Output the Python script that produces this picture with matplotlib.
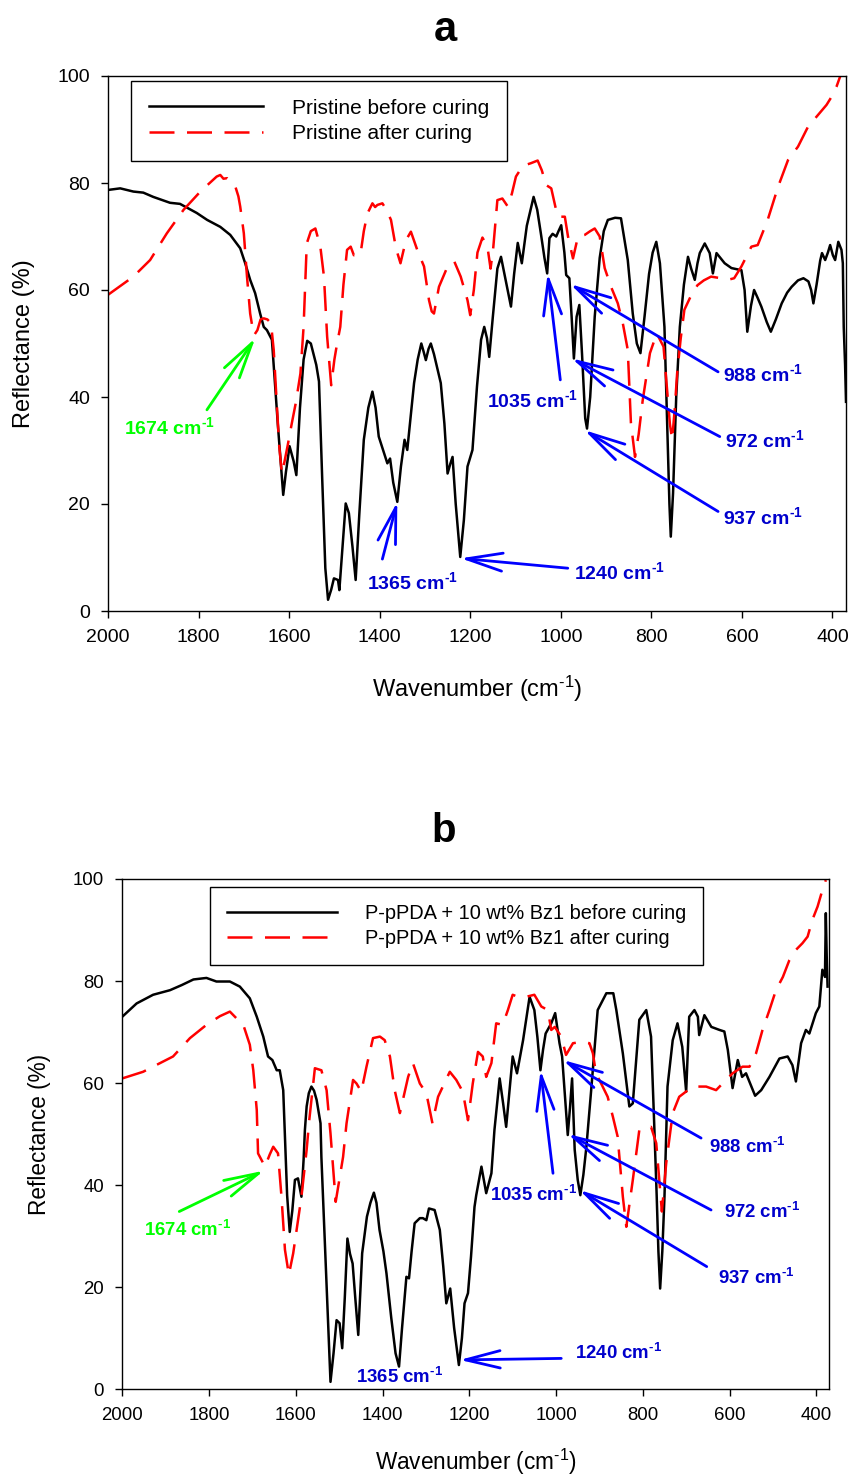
"""FTIR reflectance spectra before/after curing: panel a (pristine), panel b (P-pPDA + 10 wt% Bz1)."""
import matplotlib

matplotlib.use("Agg")
import matplotlib.pyplot as plt  # noqa: E402

plt.rcParams["font.family"] = "Liberation Sans"
plt.rcParams["mathtext.fontset"] = "custom"
plt.rcParams["mathtext.rm"] = "Liberation Sans"
plt.rcParams["mathtext.bf"] = "Liberation Sans:bold"
plt.rcParams["mathtext.default"] = "regular"

# ---- panel a: pristine ----
a_before_wn = [2000, 1973, 1944, 1922, 1900, 1863, 1841, 1804, 1781, 1752, 1730, 1708, 1697, 1686,
               1675, 1664, 1656, 1649, 1638, 1625, 1613, 1607, 1599, 1590, 1584, 1576, 1568, 1560,
               1552, 1540, 1534, 1527, 1520, 1514, 1507, 1501, 1492, 1489, 1482, 1475, 1468, 1460,
               1453, 1445, 1435, 1425, 1416, 1409, 1402, 1392, 1383, 1377, 1370, 1361, 1353, 1345,
               1339, 1332, 1324, 1316, 1308, 1303, 1298, 1292, 1287, 1280, 1265, 1257, 1250, 1244,
               1239, 1232, 1222, 1214, 1206, 1195, 1185, 1176, 1169, 1163, 1158, 1150, 1140, 1132,
               1122, 1110, 1103, 1095, 1086, 1075, 1060, 1052, 1044, 1036, 1030, 1025, 1018, 1010,
               1005, 999, 992, 988, 981, 976, 971, 965, 959, 953, 946, 942, 935, 925, 914, 905, 896,
               880, 867, 852, 841, 832, 824, 815, 805, 797, 789, 781, 771, 765, 760, 757, 752, 745,
               737, 728, 719, 712, 704, 698, 693, 682, 671, 664, 656, 638, 623, 601, 594, 588, 580,
               573, 565, 557, 545, 536, 525, 512, 500, 490, 476, 464, 453, 447, 442, 435, 427, 423,
               416, 410, 405, 399, 394, 390, 387, 380, 377, 375, 372, 370]
a_before_r = [78.7, 79.0, 78.4, 78.2, 77.4, 76.3, 76.1, 74.4, 73.1, 71.8, 70.3, 67.8, 65.0, 61.9,
              59.4, 55.6, 53.1, 52.5, 50.7, 35.0, 21.7, 26.0, 30.8, 28.0, 25.4, 38.0, 47.0, 50.5,
              50.0, 46.0, 42.9, 25.0, 8.0, 2.1, 4.0, 6.1, 5.8, 3.9, 12.0, 20.1, 18.3, 12.0,
              5.8, 18.0, 32.0, 38.0, 41.0, 38.0, 32.6, 30.0, 27.6, 28.5, 24.0, 20.4, 27.0, 32.0,
              30.1, 36.0, 42.6, 47.0, 50.0, 48.5, 46.9, 49.0, 50.0, 48.0, 42.6, 35.0, 25.7, 27.5,
              28.8, 20.0, 10.1, 17.0, 27.0, 30.1, 42.0, 50.7, 53.1, 51.0, 47.5, 55.0, 64.0, 66.2,
              62.0, 56.9, 63.0, 68.8, 65.0, 72.0, 77.4, 75.0, 70.6, 66.0, 63.1, 69.7, 70.5, 70.0,
              71.0, 72.1, 67.0, 62.8, 62.2, 55.0, 47.2, 55.0, 57.2, 48.0, 36.0, 34.1, 40.0, 55.0,
              66.0, 71.0, 73.1, 73.5, 73.4, 65.6, 55.6, 50.0, 48.2, 55.0, 63.0, 67.0, 69.0, 65.0,
              53.1, 35.0, 20.0, 13.9, 22.0, 40.0, 53.1, 61.0, 66.2, 64.0, 61.9, 65.0, 66.9, 68.7,
              66.9, 63.1, 66.9, 65.0, 64.1, 63.7, 60.0, 52.2, 57.0, 60.0, 58.5, 56.9, 54.0, 52.2,
              54.5, 57.5, 59.5, 60.6, 61.8, 62.2, 61.6, 60.0, 57.5, 61.0, 65.5, 66.9, 65.6, 67.0,
              68.4, 66.5, 65.6, 67.5, 69.0, 67.5, 65.0, 53.1, 46.0, 39.1]

a_after_wn = [2000, 1944, 1907, 1870, 1833, 1796, 1774, 1760, 1752, 1745, 1737, 1727, 1719, 1712,
              1708, 1700, 1693, 1686, 1680, 1677, 1670, 1663, 1656, 1648, 1640, 1634, 1628, 1622,
              1616, 1610, 1603, 1594, 1585, 1575, 1568, 1561, 1552, 1542, 1531, 1523, 1516, 1507,
              1500, 1494, 1487, 1480, 1472, 1464, 1457, 1450, 1442, 1435, 1427, 1416, 1410, 1405,
              1394, 1385, 1375, 1364, 1354, 1342, 1331, 1317, 1302, 1291, 1285, 1280, 1269, 1250,
              1235, 1221, 1206, 1200, 1192, 1184, 1173, 1162, 1155, 1149, 1140, 1129, 1117, 1108,
              1099, 1084, 1066, 1051, 1042, 1032, 1021, 1012, 1006, 991, 984, 973, 962, 947, 935,
              925, 914, 903, 889, 874, 863, 852, 845, 836, 828, 819, 803, 788, 773, 765, 759, 754,
              748, 743, 735, 727, 712, 698, 684, 668, 646, 631, 617, 601, 579, 565, 543, 520, 498,
              476, 454, 432, 413, 402, 391, 383]
a_after_r = [59.1, 62.5, 65.6, 70.6, 75.0, 78.4, 80.1, 81.2, 81.5, 80.8, 80.9, 80.0, 79.4, 77.5,
             75.6, 70.6, 62.5, 55.6, 52.5, 51.6, 52.5, 54.5, 54.7, 54.5, 53.8, 48.8, 40.0, 31.0,
             25.7, 28.0, 31.0, 35.1, 39.0, 44.4, 53.1, 68.7, 71.0, 71.5, 68.1, 62.5, 51.3, 42.2,
             47.0, 50.0, 53.1, 61.0, 67.5, 68.1, 66.5, 67.0, 66.9, 71.0, 74.3, 76.2, 75.5, 75.9,
             76.2, 75.0, 73.1, 67.8, 65.0, 69.3, 70.9, 67.5, 64.4, 58.1, 56.0, 55.6, 60.6, 64.4,
             65.3, 62.5, 58.1, 55.3, 60.0, 67.0, 69.8, 68.1, 64.0, 68.0, 76.8, 77.1, 75.6, 78.0,
             81.2, 83.2, 83.7, 84.2, 82.4, 79.6, 79.0, 75.6, 73.7, 73.7, 70.0, 65.9, 70.0, 70.3, 71.0,
             71.5, 70.0, 64.1, 60.6, 57.5, 53.8, 48.8, 35.1, 28.8, 33.0, 39.4, 48.2, 51.9, 49.4, 41.3,
             35.0, 32.0, 38.0, 44.4, 51.0, 56.3, 59.0, 60.9, 61.8, 62.5, 62.2, 61.9, 62.2, 64.4,
             68.1, 68.4, 73.1, 79.3, 84.3, 86.8, 90.5, 92.7, 94.6, 96.1, 98.0, 99.9]

# ---- panel b: P-pPDA + 10 wt% Bz1 ----
b_before_wn = [2000, 1967, 1929, 1890, 1863, 1836, 1806, 1783, 1752, 1729, 1706, 1690, 1675, 1664,
               1654, 1644, 1637, 1629, 1625, 1620, 1614, 1608, 1602, 1595, 1587, 1582, 1579, 1575,
               1570, 1564, 1558, 1552, 1543, 1541, 1536, 1531, 1525, 1520, 1513, 1506, 1499, 1493,
               1487, 1481, 1475, 1469, 1463, 1456, 1447, 1436, 1428, 1420, 1414, 1407, 1398, 1391,
               1380, 1370, 1362, 1355, 1345, 1339, 1333, 1326, 1314, 1307, 1299, 1293, 1280, 1268,
               1260, 1253, 1244, 1235, 1224, 1217, 1211, 1203, 1196, 1188, 1184, 1172, 1161, 1149,
               1142, 1130, 1122, 1115, 1100, 1090, 1076, 1061, 1050, 1043, 1036, 1030, 1024, 1011,
               1002, 992, 986, 980, 973, 968, 963, 957, 950, 944, 937, 930, 919, 904, 884, 868, 861,
               846, 831, 823, 808, 792, 781, 774, 768, 764, 760, 755, 750, 743, 731, 720, 709, 700,
               693, 681, 673, 670, 658, 642, 623, 612, 604, 593, 581, 571, 562, 541, 527, 508, 485,
               466, 455, 447, 435, 424, 416, 401, 393, 386, 380, 378, 376, 374]
b_before_r = [73.0, 75.6, 77.3, 78.2, 79.2, 80.3, 80.6, 79.9, 79.9, 78.9, 76.6, 73.0, 69.1, 65.2,
              64.5, 62.5, 62.5, 58.6, 49.5, 38.0, 30.8, 35.0, 41.0, 41.3, 37.7, 45.0, 50.8, 55.4,
              58.0, 59.3, 58.5, 56.7, 52.1, 45.5, 35.0, 24.6, 12.0, 1.4, 7.0, 13.5, 12.9, 8.0,
              18.0, 29.5, 26.5, 24.6, 18.0, 10.6, 26.6, 33.8, 36.5, 38.5, 36.5, 31.2, 27.0, 22.7,
              14.0, 7.0, 4.4, 12.0, 22.0, 21.7, 27.0, 32.5, 33.5, 33.5, 33.1, 35.4, 35.1, 31.2,
              24.0, 16.8, 19.7, 12.0, 4.7, 10.0, 16.8, 18.8, 26.0, 35.7, 38.0, 43.6, 38.4, 42.3,
              50.8, 60.9, 56.0, 51.4, 65.2, 61.9, 68.4, 76.9, 74.3, 69.0, 62.5, 66.5, 69.7, 71.7,
              73.7, 67.8, 65.2, 58.0, 49.8, 55.0, 60.9, 46.9, 41.0, 38.0, 42.0, 47.5, 58.6, 74.3,
              77.6, 77.6, 74.3, 65.8, 55.4, 56.0, 72.4, 74.3, 69.1, 52.7, 38.0, 27.0, 19.7, 27.0,
              37.7, 59.3, 68.4, 71.7, 67.1, 58.3, 73.0, 74.3, 73.0, 69.4, 73.3, 71.0, 70.4, 70.1,
              66.5, 59.0, 64.5, 61.2, 61.9, 57.5, 58.6, 61.2, 64.8, 65.2, 63.5, 60.3, 67.8, 70.4,
              69.7, 73.7, 75.0, 82.2, 80.8, 93.3, 85.0, 78.9]

b_after_wn = [2000, 1952, 1913, 1883, 1844, 1806, 1775, 1752, 1737, 1721, 1706, 1698, 1690, 1687,
              1671, 1660, 1652, 1641, 1633, 1625, 1616, 1606, 1587, 1575, 1569, 1556, 1541, 1529,
              1520, 1508, 1491, 1483, 1468, 1460, 1449, 1437, 1422, 1406, 1395, 1383, 1372, 1360,
              1341, 1330, 1314, 1299, 1285, 1272, 1261, 1245, 1230, 1215, 1203, 1192, 1180, 1169,
              1161, 1149, 1138, 1123, 1111, 1100, 1088, 1069, 1050, 1034, 1019, 1011, 1003, 988,
              977, 961, 938, 923, 915, 908, 896, 881, 869, 858, 846, 838, 823, 808, 792, 781, 769,
              762, 756, 746, 731, 716, 685, 654, 631, 608, 593, 570, 554, 539, 524, 508, 493, 477,
              462, 447, 432, 420, 409, 397, 386, 378]
b_after_r = [60.9, 62.2, 63.9, 65.2, 68.8, 71.4, 73.1, 74.0, 72.7, 71.4, 67.5, 62.5, 54.7, 46.2,
             43.6, 46.0, 47.5, 46.2, 37.7, 27.3, 22.4, 26.6, 37.7, 46.9, 52.7, 62.9, 62.5, 58.6,
             50.1, 36.7, 45.5, 52.1, 60.6, 59.9, 58.3, 63.2, 68.8, 69.1, 68.4, 65.2, 58.6, 54.1,
             61.2, 63.9, 59.9, 58.0, 52.1, 57.3, 59.3, 62.2, 60.6, 58.3, 52.7, 59.9, 66.1, 65.2,
             61.2, 63.9, 71.7, 71.4, 74.3, 77.3, 76.9, 76.9, 77.3, 75.0, 74.3, 70.4, 71.0, 69.1,
             65.5, 67.8, 68.1, 67.8, 65.8, 61.9, 59.9, 57.3, 53.4, 49.5, 37.7, 31.8, 41.0, 50.8,
             51.1, 51.4, 48.2, 41.0, 34.8, 44.3, 54.1, 57.3, 59.3, 59.3, 58.6, 60.6, 61.9, 63.2,
             63.2, 65.8, 70.4, 74.3, 78.2, 80.8, 84.1, 86.1, 87.4, 88.7, 92.0, 94.6, 97.8, 99.8]

# peak annotations: (label, tip wn, tip R, tail wn, tail R, text wn, text R, text ha, colour)
GREEN = "#00ff00"
BLUE = "#0000ff"
NAVY = "#0000cc"
a_peaks = [
    ("1674", 1674.6, 51.0, 1781.5, 37.6, 1865, 34.3, "center", GREEN),
    ("1365", 1361, 20.4, 1394, 9.7, 1327, 5.3, "center", BLUE),
    ("1240", 1221, 9.85, 984.5, 8.0, 971, 7.2, "left", BLUE),
    ("1035", 1029, 63.1, 1001, 43.2, 1062, 39.4, "center", BLUE),
    ("988", 979, 61.1, 652.5, 44.7, 641.6, 44.2, "left", BLUE),
    ("972", 975.6, 47.2, 648.8, 32.6, 638, 32.0, "left", BLUE),
    ("937", 947.7, 33.8, 652.5, 18.6, 641.6, 17.6, "left", BLUE),
]
b_peaks = [
    ("1674", 1673.7, 42.8, 1868.7, 34.8, 1850, 31.2, "center", GREEN),
    ("1365", None, None, None, None, 1360, 2.4, "center", BLUE),
    ("1240", 1222, 5.7, 988, 6.0, 957, 7.0, "left", BLUE),
    ("1035", 1035.7, 62.5, 1007, 42.3, 1052, 38.0, "center", BLUE),
    ("988", 984, 64.5, 665.6, 49.2, 646.5, 47.5, "left", BLUE),
    ("972", 972.8, 50.0, 642.6, 35.1, 611.8, 34.8, "left", BLUE),
    ("937", 945.9, 39.0, 652.6, 24.0, 627, 21.7, "left", BLUE),
]

INV_CM = "cm$^{\u2010 1}$"  # superscript with a short hyphen, as in the original

W, H = 853, 1477
fig = plt.figure(figsize=(W / 100, H / 100), dpi=100)


def draw_panel(rect, before, after, labels, peaks, scale, ylab_x, xlab_y, legend_anchor):
    ax = fig.add_axes(rect)
    ax.plot(before[0], before[1], color="black", lw=1.8, label=labels[0])
    ax.plot(after[0], after[1], color="red", lw=1.8, linestyle=(0, (10, 5)), label=labels[1])
    ax.set_xlim(2000, 370)
    ax.set_ylim(0, 100)
    ax.set_xticks(range(2000, 399, -200))
    ax.set_yticks(range(0, 101, 20))
    ax.tick_params(direction="out", length=5, width=1, labelsize=14 * scale, pad=8)
    for sp in ax.spines.values():
        sp.set_linewidth(1.0)
    ax.set_xlabel("Wavenumber (" + INV_CM + ")", fontsize=17 * scale)
    ax.set_ylabel("Reflectance (%)", fontsize=17 * scale)
    ax.xaxis.set_label_coords(0.5, xlab_y)
    ax.yaxis.set_label_coords(ylab_x, 0.5)

    leg = ax.legend(loc="upper left", bbox_to_anchor=legend_anchor, fontsize=15 * scale,
                    frameon=True, fancybox=False, framealpha=1, edgecolor="black",
                    handlelength=5.5, handletextpad=1.4, borderpad=0.85, labelspacing=0.33,
                    borderaxespad=0)
    leg.get_frame().set_linewidth(1.0)

    for lab, tx, ty, sx, sy, lx, ly, ha, col in peaks:
        if tx is not None:
            ax.annotate("", xy=(tx, ty), xytext=(sx, sy),
                        arrowprops=dict(arrowstyle="->,head_length=2.6,head_width=0.65",
                                        color=col, lw=2, shrinkA=0, shrinkB=0,
                                        mutation_scale=10 * scale))
        tcol = col if col == GREEN else NAVY
        ax.text(lx, ly, lab + " " + INV_CM, color=tcol, fontsize=14 * scale,
                fontweight="bold", ha=ha, va="center")
    return ax


draw_panel([108 / W, 1 - 611 / H, 738 / W, 535 / H],
           (a_before_wn, a_before_r), (a_after_wn, a_after_r),
           ("Pristine before curing", "Pristine after curing"),
           a_peaks, 1.0, -0.099, -0.118, (0.031, 0.991))
draw_panel([122.3 / W, 1 - 1389 / H, 707 / W, 510 / H],
           (b_before_wn, b_before_r), (b_after_wn, b_after_r),
           ("P-pPDA + 10 wt% Bz1 before curing", "P-pPDA + 10 wt% Bz1 after curing"),
           b_peaks, 0.96, -0.101, -0.113, (0.124, 0.985))

fig.text(445.7 / W, 1 - 41 / H, "a", fontsize=30, fontweight="bold", ha="center", va="baseline")
fig.text(444 / W, 1 - 842 / H, "b", fontsize=29, fontweight="bold", ha="center", va="baseline")

fig.savefig("out.png", dpi=100)
plt.close(fig)
